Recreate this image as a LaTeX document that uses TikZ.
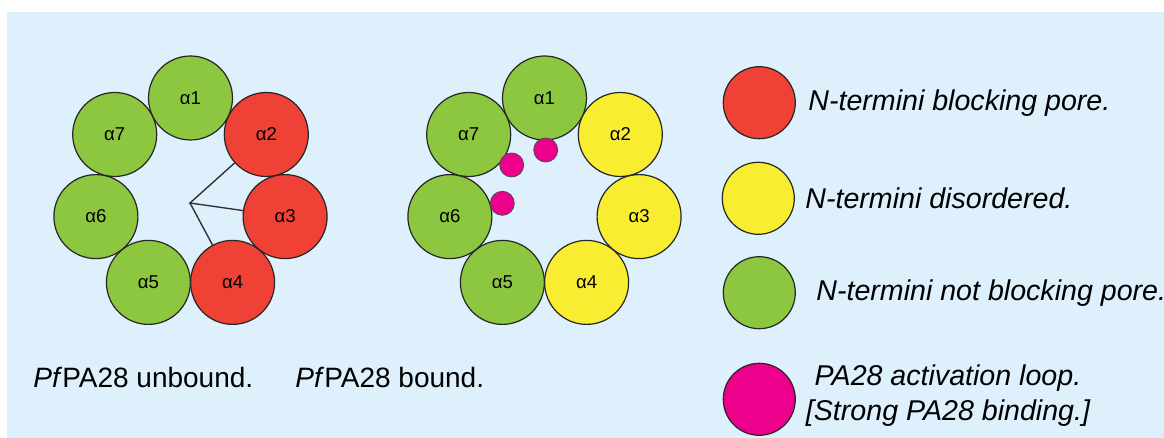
\documentclass[tikz,border=0pt]{standalone}
\usepackage{fontspec}
\setmainfont{Liberation Sans}
\usepackage{tikz}

\definecolor{panelblue}{RGB}{221,240,252}
\definecolor{helixgreen}{RGB}{141,198,63}
\definecolor{helixred}{RGB}{239,65,54}
\definecolor{helixyellow}{RGB}{249,237,50}
\definecolor{loopmagenta}{RGB}{236,0,140}

\begin{document}
\begin{tikzpicture}[x=0.5pt,y=-0.5pt,
  helix/.style={circle,draw=black!85,line width=0.6pt,minimum size=42pt,inner sep=0pt,font=\fontsize{9.3}{10}\selectfont},
  actloop/.style={circle,draw=black!70,line width=0.4pt,fill=loopmagenta,minimum size=12pt,inner sep=0pt},
  keydot/.style={circle,draw=black!85,line width=0.6pt,minimum size=36pt,inner sep=0pt},
  keytext/.style={anchor=west,inner sep=0pt,font=\fontsize{14.3}{17.5}\selectfont\itshape},
  caption/.style={anchor=west,inner sep=0pt,font=\fontsize{14}{17}\selectfont}]
\useasboundingbox (0,0) rectangle (1164,438);
\fill[panelblue] (7,12) rectangle (1164,438);

% unbound ring
\node[helix,fill=helixgreen] (u1) at (190.5,98) {α1};
\node[helix,fill=helixred] (u2) at (266.3,134.5) {α2};
\node[helix,fill=helixred] (u3) at (285.1,216.6) {α3};
\node[helix,fill=helixred] (u4) at (232.6,282.4) {α4};
\node[helix,fill=helixgreen] (u5) at (148.4,282.4) {α5};
\node[helix,fill=helixgreen] (u6) at (95.9,216.6) {α6};
\node[helix,fill=helixgreen] (u7) at (114.7,134.5) {α7};
\coordinate (hub) at (190,203);
\draw[black!80,line width=0.7pt] (u2) -- (hub) -- (u3);
\draw[black!80,line width=0.7pt] (hub) -- (u4);

% bound ring
\node[helix,fill=helixgreen] (b1) at (544.5,98) {α1};
\node[helix,fill=helixyellow] (b2) at (620.3,134.5) {α2};
\node[helix,fill=helixyellow] (b3) at (639.1,216.6) {α3};
\node[helix,fill=helixyellow] (b4) at (586.6,282.4) {α4};
\node[helix,fill=helixgreen] (b5) at (502.4,282.4) {α5};
\node[helix,fill=helixgreen] (b6) at (449.9,216.6) {α6};
\node[helix,fill=helixgreen] (b7) at (468.7,134.5) {α7};
\node[actloop] (loopa) at (545.7,150) {};
\node[actloop] (loopb) at (511.7,165) {};
\node[actloop] (loopc) at (502.3,203.3) {};

% captions
\node[caption] (capu) at (33,377) {\textit{Pf}PA28 unbound.};
\node[caption] (capb) at (295,377) {\textit{Pf}PA28 bound.};

% key
\node[keydot,fill=helixred] (kred) at (759.3,102.7) {};
\node[keydot,fill=helixyellow] (kyel) at (758.3,198.3) {};
\node[keydot,fill=helixgreen] (kgrn) at (759.3,292.7) {};
\node[keydot,fill=loopmagenta] (kmag) at (759.3,399.3) {};
\node[keytext] (tred) at (808,102.7) {N-termini blocking pore.};
\node[keytext] (tyel) at (805,198.3) {N-termini disordered.};
\node[keytext] (tgrn) at (816,292.7) {N-termini not blocking pore.};
\node[keytext,anchor=center,align=center] (tmag) at (948,396) {PA28 activation loop.\\{}[Strong PA28 binding.]};
\end{tikzpicture}
\end{document}
